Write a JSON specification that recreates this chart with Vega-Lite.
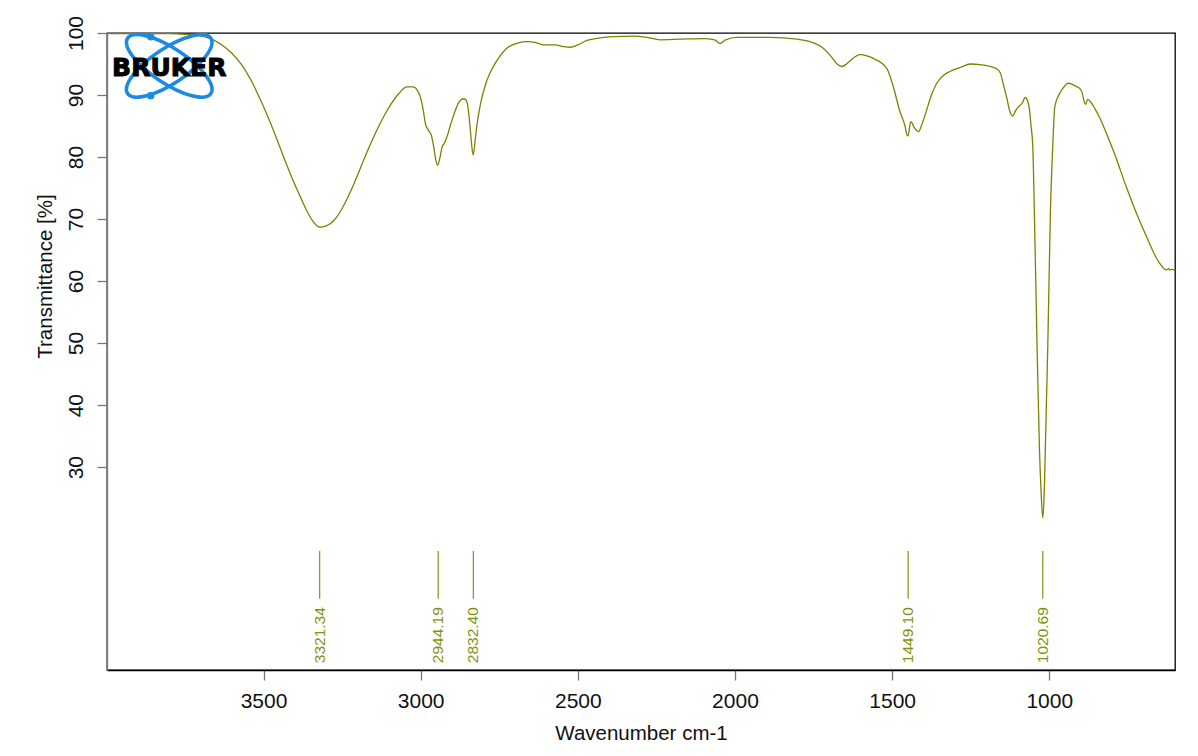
{
  "$schema": "https://vega.github.io/schema/vega-lite/v6.json",
  "description": "FT-IR spectrum, transmittance vs wavenumber, with peak picks",
  "width": 1068,
  "height": 637,
  "autosize": "none",
  "padding": {"left": 107, "top": 33, "right": 23, "bottom": 86},
  "background": "white",
  "config": {
    "view": {"stroke": "black", "strokeWidth": 1.3},
    "font": "Liberation Sans",
    "axis": {
      "grid": false,
      "labelFont": "Liberation Sans",
      "titleFont": "Liberation Sans",
      "labelFontSize": 21,
      "titleFontSize": 20.5,
      "titleFontWeight": "normal",
      "labelColor": "#111",
      "titleColor": "#111",
      "tickColor": "#777",
      "tickWidth": 1.3,
      "tickSize": 10
    }
  },
  "datasets": {
    "spectrum": [
      {"wn": 3998, "t": 99.9}, {"wn": 3900, "t": 99.9}, {"wn": 3800, "t": 99.9},
      {"wn": 3750, "t": 99.8}, {"wn": 3700, "t": 99.5}, {"wn": 3660, "t": 98.9},
      {"wn": 3630, "t": 98.0}, {"wn": 3600, "t": 96.7}, {"wn": 3570, "t": 94.9},
      {"wn": 3541, "t": 92.5}, {"wn": 3515, "t": 89.8}, {"wn": 3487, "t": 86.6},
      {"wn": 3460, "t": 83.2}, {"wn": 3436, "t": 80.0}, {"wn": 3410, "t": 76.7},
      {"wn": 3382, "t": 73.5}, {"wn": 3360, "t": 71.1}, {"wn": 3341, "t": 69.5},
      {"wn": 3321, "t": 68.7}, {"wn": 3300, "t": 68.9}, {"wn": 3274, "t": 69.9},
      {"wn": 3250, "t": 71.7}, {"wn": 3220, "t": 74.8}, {"wn": 3200, "t": 77.2},
      {"wn": 3175, "t": 80.3}, {"wn": 3150, "t": 83.2}, {"wn": 3120, "t": 86.3},
      {"wn": 3096, "t": 88.4}, {"wn": 3070, "t": 90.2}, {"wn": 3044, "t": 91.3},
      {"wn": 3023, "t": 91.3}, {"wn": 3010, "t": 90.7}, {"wn": 3001, "t": 89.7},
      {"wn": 2992, "t": 87.6}, {"wn": 2985, "t": 85.4}, {"wn": 2975, "t": 84.3},
      {"wn": 2966, "t": 83.5}, {"wn": 2959, "t": 81.8}, {"wn": 2952, "t": 79.6},
      {"wn": 2946, "t": 78.7}, {"wn": 2940, "t": 79.6}, {"wn": 2932, "t": 81.6},
      {"wn": 2924, "t": 82.3}, {"wn": 2916, "t": 83.3}, {"wn": 2905, "t": 85.2},
      {"wn": 2896, "t": 86.6}, {"wn": 2880, "t": 88.7}, {"wn": 2864, "t": 89.4},
      {"wn": 2856, "t": 89.2}, {"wn": 2850, "t": 88.2}, {"wn": 2845, "t": 86.0},
      {"wn": 2840, "t": 83.2}, {"wn": 2833, "t": 80.3}, {"wn": 2826, "t": 83.0},
      {"wn": 2820, "t": 85.5}, {"wn": 2810, "t": 88.5}, {"wn": 2789, "t": 92.4},
      {"wn": 2757, "t": 95.6}, {"wn": 2725, "t": 97.6}, {"wn": 2690, "t": 98.4},
      {"wn": 2660, "t": 98.6}, {"wn": 2630, "t": 98.4}, {"wn": 2609, "t": 98.1},
      {"wn": 2572, "t": 98.1}, {"wn": 2545, "t": 97.8}, {"wn": 2524, "t": 97.7},
      {"wn": 2500, "t": 98.1}, {"wn": 2471, "t": 98.8}, {"wn": 2430, "t": 99.2},
      {"wn": 2386, "t": 99.4}, {"wn": 2323, "t": 99.5}, {"wn": 2280, "t": 99.3},
      {"wn": 2238, "t": 98.9}, {"wn": 2174, "t": 99.0}, {"wn": 2100, "t": 99.1},
      {"wn": 2065, "t": 98.9}, {"wn": 2047, "t": 98.3}, {"wn": 2030, "t": 98.9},
      {"wn": 1994, "t": 99.3}, {"wn": 1888, "t": 99.3}, {"wn": 1803, "t": 99.0},
      {"wn": 1750, "t": 98.4}, {"wn": 1720, "t": 97.6}, {"wn": 1697, "t": 96.4},
      {"wn": 1675, "t": 95.0}, {"wn": 1660, "t": 94.6}, {"wn": 1645, "t": 95.0},
      {"wn": 1634, "t": 95.5}, {"wn": 1602, "t": 96.5}, {"wn": 1580, "t": 96.3},
      {"wn": 1560, "t": 95.9}, {"wn": 1517, "t": 94.3}, {"wn": 1496, "t": 91.3},
      {"wn": 1475, "t": 87.3}, {"wn": 1460, "t": 85.2}, {"wn": 1453, "t": 83.6},
      {"wn": 1449, "t": 83.4}, {"wn": 1444, "t": 85.0}, {"wn": 1440, "t": 85.7},
      {"wn": 1430, "t": 84.8}, {"wn": 1416, "t": 84.1}, {"wn": 1405, "t": 85.3},
      {"wn": 1390, "t": 87.6}, {"wn": 1375, "t": 90.0}, {"wn": 1358, "t": 91.9},
      {"wn": 1336, "t": 93.2}, {"wn": 1316, "t": 93.8}, {"wn": 1280, "t": 94.5},
      {"wn": 1252, "t": 95.0}, {"wn": 1220, "t": 94.9}, {"wn": 1188, "t": 94.6},
      {"wn": 1170, "t": 94.3}, {"wn": 1156, "t": 93.6}, {"wn": 1145, "t": 91.5},
      {"wn": 1135, "t": 89.5}, {"wn": 1125, "t": 87.3}, {"wn": 1116, "t": 86.6},
      {"wn": 1108, "t": 87.4}, {"wn": 1098, "t": 88.1}, {"wn": 1085, "t": 88.8},
      {"wn": 1077, "t": 89.6}, {"wn": 1070, "t": 89.2}, {"wn": 1064, "t": 88.0},
      {"wn": 1058, "t": 85.0}, {"wn": 1052.5, "t": 81.7}, {"wn": 1047.4, "t": 71.0},
      {"wn": 1038.8, "t": 49.4}, {"wn": 1031.5, "t": 33.3}, {"wn": 1026, "t": 26.0},
      {"wn": 1020.7, "t": 21.8}, {"wn": 1016, "t": 26.0}, {"wn": 1012.4, "t": 33.3},
      {"wn": 1004.8, "t": 49.4}, {"wn": 996.5, "t": 71.0}, {"wn": 989, "t": 81.7},
      {"wn": 982.5, "t": 88.1}, {"wn": 966.6, "t": 90.3}, {"wn": 955, "t": 91.2},
      {"wn": 940, "t": 91.9}, {"wn": 930, "t": 91.8}, {"wn": 915, "t": 91.4},
      {"wn": 902, "t": 91.0}, {"wn": 895, "t": 90.3}, {"wn": 888, "t": 88.8},
      {"wn": 884, "t": 88.5}, {"wn": 878, "t": 89.3}, {"wn": 870, "t": 89.0},
      {"wn": 855, "t": 87.8}, {"wn": 839, "t": 86.3}, {"wn": 818, "t": 83.8},
      {"wn": 790, "t": 80.2}, {"wn": 755, "t": 75.2}, {"wn": 720, "t": 70.6},
      {"wn": 690, "t": 67.1}, {"wn": 665, "t": 64.3}, {"wn": 648, "t": 62.8},
      {"wn": 635, "t": 62.0}, {"wn": 627, "t": 61.8}, {"wn": 620, "t": 62.0},
      {"wn": 616, "t": 61.8}, {"wn": 610, "t": 61.9}, {"wn": 600, "t": 61.7}
    ],
    "peaks": [
      {"wn": 3321.34}, {"wn": 2944.19}, {"wn": 2832.40}, {"wn": 1449.10}, {"wn": 1020.69}
    ],
    "logo": [
      {"name": "Bruker"}
    ]
  },
  "layer": [
    {
      "data": {"name": "spectrum"},
      "mark": {"type": "line", "color": "#808000", "strokeWidth": 1.3, "interpolate": "monotone"},
      "encoding": {
        "x": {
          "field": "wn",
          "type": "quantitative",
          "scale": {"domain": [600, 3998], "reverse": true, "nice": false, "zero": false},
          "axis": {
            "values": [1000, 1500, 2000, 2500, 3000, 3500],
            "format": "d",
            "title": "Wavenumber cm-1",
            "domainColor": "black",
            "domainWidth": 1.3,
            "labelPadding": 10,
            "titleBaseline": "alphabetic",
            "titleY": 69
          }
        },
        "y": {
          "field": "t",
          "type": "quantitative",
          "scale": {"domain": [-2.7, 100], "nice": false, "zero": false},
          "axis": {
            "values": [30, 40, 50, 60, 70, 80, 90, 100],
            "title": "Transmittance [%]",
            "domainColor": "#777",
            "domainWidth": 1.3,
            "labelAngle": -90,
            "labelAlign": "center",
            "labelBaseline": "bottom",
            "labelPadding": 11,
            "titleX": -52,
            "titleY": 243,
            "titleAlign": "center"
          }
        },
        "order": {"field": "wn", "type": "quantitative", "sort": "descending"}
      }
    },
    {
      "data": {"name": "peaks"},
      "mark": {"type": "rule", "color": "#7f9410", "strokeWidth": 1.2},
      "encoding": {
        "x": {"field": "wn", "type": "quantitative"},
        "y": {"datum": 16.5},
        "y2": {"datum": 8.8}
      }
    },
    {
      "data": {"name": "peaks"},
      "mark": {
        "type": "text",
        "color": "#7f9410",
        "font": "Liberation Sans",
        "fontSize": 15.5,
        "angle": 270,
        "align": "left",
        "baseline": "middle"
      },
      "encoding": {
        "x": {"field": "wn", "type": "quantitative"},
        "y": {"datum": -1.6},
        "text": {"field": "wn", "type": "quantitative", "format": ".2f"}
      }
    },
    {
      "data": {"name": "logo"},
      "mark": {
        "type": "point",
        "shape": "M -1 0 A 1 0.35 0 1 1 1 0 A 1 0.35 0 1 1 -1 0 Z",
        "filled": false,
        "stroke": "#1b8be0",
        "strokeWidth": 3.5,
        "size": 10000,
        "angle": 33.5,
        "opacity": 1
      },
      "encoding": {"x": {"datum": 3800}, "y": {"datum": 94.7}}
    },
    {
      "data": {"name": "logo"},
      "mark": {
        "type": "point",
        "shape": "M -1 0 A 1 0.35 0 1 1 1 0 A 1 0.35 0 1 1 -1 0 Z",
        "filled": false,
        "stroke": "#1b8be0",
        "strokeWidth": 3.5,
        "size": 10000,
        "angle": -33.5,
        "opacity": 1
      },
      "encoding": {"x": {"datum": 3800}, "y": {"datum": 94.7}}
    },
    {
      "data": {"name": "logo"},
      "mark": {"type": "point", "shape": "circle", "filled": true, "color": "#1b8be0", "size": 55, "opacity": 1},
      "encoding": {"x": {"datum": 3859}, "y": {"datum": 99.4}}
    },
    {
      "data": {"name": "logo"},
      "mark": {"type": "point", "shape": "circle", "filled": true, "color": "#1b8be0", "size": 55, "opacity": 1},
      "encoding": {"x": {"datum": 3859}, "y": {"datum": 89.9}}
    },
    {
      "data": {"name": "logo"},
      "mark": {
        "type": "text",
        "text": "BRUKER",
        "font": "DejaVu Sans",
        "fontWeight": 900,
        "fontSize": 25,
        "color": "black",
        "stroke": "black",
        "strokeWidth": 1,
        "align": "center",
        "baseline": "middle"
      },
      "encoding": {"x": {"datum": 3800}, "y": {"datum": 94.3}}
    }
  ]
}
